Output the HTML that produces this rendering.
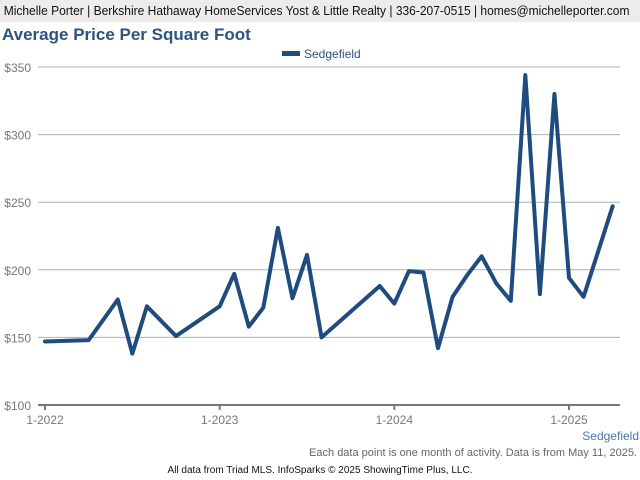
<!DOCTYPE html>
<html><head><meta charset="utf-8"><style>
body{margin:0;width:640px;height:480px;background:#fff;font-family:"Liberation Sans",sans-serif;position:relative;overflow:hidden}
.hdr{position:absolute;left:0;top:0;width:640px;height:22px;background:#ececec;font-size:13px;color:#111;line-height:22px;box-sizing:border-box;white-space:nowrap;overflow:hidden}
.hdr span{display:inline-block;transform:scaleX(0.924);transform-origin:0 50%;padding-left:4px}
.title{position:absolute;left:2px;top:25px;font-size:17px;font-weight:bold;color:#2d5382}
svg{position:absolute;left:0;top:0}
</style></head><body>
<div class="hdr"><span>Michelle Porter | Berkshire Hathaway HomeServices Yost &amp; Little Realty | 336-207-0515 | homes@michelleporter.com</span></div>
<div class="title">Average Price Per Square Foot</div>
<svg id="c" width="640" height="480"></svg>
<script>
const months=[0,3,5,6,7,9,12,13,14,15,16,17,18,19,23,24,25,26,27,28,29,30,31,32,33,34,35,36,37,39];
const values=[147,148,178,138,173,151,173,197,158,172,231,179,211,150,188,175,199,198,142,180,196,210,190,177,344,182,330,194,180,247];
const yTicks=[100,150,200,250,300,350];
const xTickMonths=[0,12,24,36];
const xTickLabels=["1-2022","1-2023","1-2024","1-2025"];
const NS="http://www.w3.org/2000/svg";
const svg=document.getElementById('c');
const x=m=>45+m*(569-45)/36;
const y=v=>405-(v-100)*(405-67)/250;
function mk(t,a){const e=document.createElementNS(NS,t);for(const k in a)e.setAttribute(k,a[k]);svg.appendChild(e);return e;}
yTicks.forEach(v=>{
  if(v>100){const g=mk('line',{x1:38,x2:620,y1:y(v),y2:y(v),stroke:'#b0b0b0','stroke-width':1});
  
  }
  const t=mk('text',{x:31,y:y(v)+5,'text-anchor':'end','font-size':12,fill:'#777'});t.textContent='$'+v;
  
  
});
const ax=mk('line',{x1:38,x2:620,y1:405,y2:405,stroke:'#777','stroke-width':2});


xTickMonths.forEach((m,i)=>{
  const tk=mk('line',{x1:x(m),x2:x(m),y1:405,y2:410,stroke:'#777','stroke-width':2});
  
  
  const t=mk('text',{x:x(m),y:424,'text-anchor':'middle','font-size':12,fill:'#777'});t.textContent=xTickLabels[i];
  
  
});
const p=mk('polyline',{points:months.map((m,i)=>x(m)+','+y(values[i])).join(' '),fill:'none',stroke:'#1f4b7e','stroke-width':4,'stroke-linejoin':'round','stroke-linecap':'round'});


const lg=mk('rect',{x:282,y:51,width:18,height:5,fill:'#1f4b7e'});


const lt=mk('text',{x:304,y:58,'font-size':12,fill:'#2d5382'});lt.textContent='Sedgefield';


const sl=mk('text',{x:639,y:440,'text-anchor':'end','font-size':12,fill:'#4a76a8'});sl.textContent='Sedgefield';


const n1=mk('text',{x:637,y:456,'text-anchor':'end','font-size':11,fill:'#666'});n1.textContent='Each data point is one month of activity. Data is from May 11, 2025.';


const n2=mk('text',{x:320,y:473,'text-anchor':'middle','font-size':10,fill:'#111'});n2.textContent='All data from Triad MLS. InfoSparks © 2025 ShowingTime Plus, LLC.';


</script>
</body></html>
